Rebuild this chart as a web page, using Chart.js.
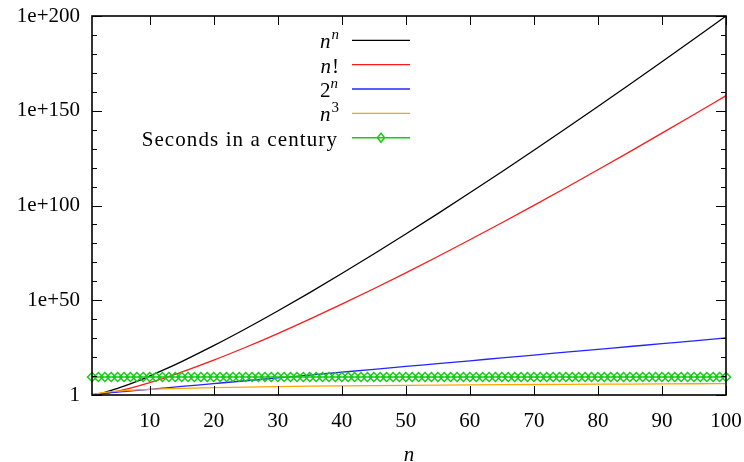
<!DOCTYPE html>
<html><head><meta charset="utf-8">
<script src="https://cdn.jsdelivr.net/npm/chart.js@4/dist/chart.umd.min.js"></script>
<style>html,body{margin:0;padding:0;background:#fff}#c{display:block}</style>
</head><body>
<canvas id="c" width="744" height="462"></canvas>
<script>
// ---- data ----
const sampleN = [1,2,3,4,5,6,8,10,12,15,20,25,30,35,40,45,50,55,60,65,70,75,80,85,90,95,100];
const nPowN = [1,4,27,256,3125,46656,1.68e7,1e10,8.9e12,4.38e17,1.05e26,8.88e34,2.06e44,1.1e54,1.21e64,2.46e74,8.88e84,5.24e95,4.89e106,6.9e117,1.43e129,4.26e140,1.78e152,1.0e164,7.6e175,7.6e187,1e200];
const nFact = [1,2,6,24,120,720,40320,3628800,4.79e8,1.31e12,2.43e18,1.55e25,2.65e32,1.03e40,8.16e47,1.20e56,3.04e64,1.27e73,8.32e81,8.25e90,1.20e100,2.48e109,7.16e118,2.82e128,1.49e138,1.03e148,9.33e157];
const twoPowN = [2,4,8,16,32,64,256,1024,4096,32768,1.05e6,3.36e7,1.07e9,3.44e10,1.1e12,3.52e13,1.13e15,3.6e16,1.15e18,3.69e19,1.18e21,3.78e22,1.21e24,3.87e25,1.24e27,3.96e28,1.27e30];
const nCubed = [1,8,27,64,125,216,512,1000,1728,3375,8000,15625,27000,42875,64000,91125,125000,166375,216000,274625,343000,421875,512000,614125,729000,857375,1e6];
const centuryN = [1,2,3,4,5,6,7,8,9,10,11,12,13,14,15,16,17,18,19,20,21,22,23,24,25,26,27,28,29,30,31,32,33,34,35,36,37,38,39,40,41,42,43,44,45,46,47,48,49,50,51,52,53,54,55,56,57,58,59,60,61,62,63,64,65,66,67,68,69,70,71,72,73,74,75,76,77,78,79,80,81,82,83,84,85,86,87,88,89,90,91,92,93,94,95,96,97,98,99,100];
const centurySeconds = [3.156e9,3.156e9,3.156e9,3.156e9,3.156e9,3.156e9,3.156e9,3.156e9,3.156e9,3.156e9,3.156e9,3.156e9,3.156e9,3.156e9,3.156e9,3.156e9,3.156e9,3.156e9,3.156e9,3.156e9,3.156e9,3.156e9,3.156e9,3.156e9,3.156e9,3.156e9,3.156e9,3.156e9,3.156e9,3.156e9,3.156e9,3.156e9,3.156e9,3.156e9,3.156e9,3.156e9,3.156e9,3.156e9,3.156e9,3.156e9,3.156e9,3.156e9,3.156e9,3.156e9,3.156e9,3.156e9,3.156e9,3.156e9,3.156e9,3.156e9,3.156e9,3.156e9,3.156e9,3.156e9,3.156e9,3.156e9,3.156e9,3.156e9,3.156e9,3.156e9,3.156e9,3.156e9,3.156e9,3.156e9,3.156e9,3.156e9,3.156e9,3.156e9,3.156e9,3.156e9,3.156e9,3.156e9,3.156e9,3.156e9,3.156e9,3.156e9,3.156e9,3.156e9,3.156e9,3.156e9,3.156e9,3.156e9,3.156e9,3.156e9,3.156e9,3.156e9,3.156e9,3.156e9,3.156e9,3.156e9,3.156e9,3.156e9,3.156e9,3.156e9,3.156e9,3.156e9,3.156e9,3.156e9,3.156e9,3.156e9];
const xTicks = [10,20,30,40,50,60,70,80,90,100];
const yMajorTicks = [1,1e50,1e100,1e150,1e200];
const yMinorTicks = [1e10,1e20,1e30,1e40,1e60,1e70,1e80,1e90,1e110,1e120,1e130,1e140,1e160,1e170,1e180,1e190];
const seriesLabels = ['n^n','n!','2^n','n^3','Seconds in a century'];
// legend label pieces: [text, style] style: i=italic, s=superscript
const legendParts = [
  [['n','i'],['n','is']],
  [['n','i'],['!','']],
  [['2',''],['n','is']],
  [['n','i'],['3','s']],
  [['Seconds in a century','']]
];
const colors = ['#000000','#ff1a1a','#2424ff','#ffa500','#14cc14'];

const FONT = '"Liberation Serif", "DejaVu Serif", serif';
const zip = (xs, ys) => xs.map((x, i) => ({x, y: ys[i]}));

const framePlugin = {
  id: 'gpFrame',
  afterDatasetsDraw(chart) {
    const {ctx, chartArea: a} = chart;
    const sx = chart.scales.x, sy = chart.scales.y;
    ctx.save();
    ctx.strokeStyle = '#000';
    ctx.lineWidth = 1;
    ctx.beginPath();
    xTicks.forEach(v => {
      const p = Math.round(sx.getPixelForValue(v)) + 0.5;
      ctx.moveTo(p, a.bottom); ctx.lineTo(p, a.bottom - 9);
      ctx.moveTo(p, a.top); ctx.lineTo(p, a.top + 9);
    });
    yMajorTicks.forEach(v => {
      const p = Math.round(sy.getPixelForValue(v)) + 0.5;
      ctx.moveTo(a.left, p); ctx.lineTo(a.left + 10, p);
      ctx.moveTo(a.right, p); ctx.lineTo(a.right - 10, p);
    });
    yMinorTicks.forEach(v => {
      const p = Math.round(sy.getPixelForValue(v)) + 0.5;
      ctx.moveTo(a.left, p); ctx.lineTo(a.left + 5, p);
      ctx.moveTo(a.right, p); ctx.lineTo(a.right - 5, p);
    });
    ctx.stroke();
    ctx.lineWidth = 1.6;
    ctx.strokeRect(a.left, a.top, a.right - a.left, a.bottom - a.top);
    ctx.restore();
  }
};

const legendPlugin = {
  id: 'gpLegend',
  afterDraw(chart) {
    const ctx = chart.ctx;
    const textRight = 338, x0 = 352, x1 = 410, row0 = 40.3, rowH = 24.35, fs = 21, sfs = 15;
    ctx.save();
    ctx.fillStyle = '#000';
    ctx.textAlign = 'left';
    ctx.textBaseline = 'alphabetic';
    const fontFor = p => (p[1].includes('i') ? 'italic ' : '') + (p[1].includes('s') ? sfs : fs) + 'px ' + FONT;
    const spacing = p => p[0].length > 3 ? '1.1px' : '0px';
    chart.data.datasets.forEach((ds, i) => {
      const y = row0 + i * rowH;
      const parts = legendParts[i];
      const widths = parts.map(p => {
        ctx.font = fontFor(p);
        ctx.letterSpacing = spacing(p);
        return ctx.measureText(p[0]).width;
      });
      let x = textRight - widths.reduce((s, w) => s + w, 0);
      parts.forEach((p, k) => {
        ctx.font = fontFor(p);
        ctx.letterSpacing = spacing(p);
        ctx.fillText(p[0], x, y + 8 - (p[1].includes('s') ? 9 : 0));
        x += widths[k] + (p[1].includes('i') && !p[1].includes('s') ? 1 : 0);
      });
      ctx.letterSpacing = '0px';
      ctx.strokeStyle = ds.borderColor;
      ctx.lineWidth = ds.borderWidth;
      ctx.beginPath();
      ctx.moveTo(x0, y); ctx.lineTo(x1, y);
      ctx.stroke();
      if (ds.pointRadius > 0) {
        const cx = (x0 + x1) / 2, r = ds.pointRadius;
        ctx.lineWidth = ds.pointBorderWidth;
        ctx.beginPath();
        ctx.moveTo(cx, y - r); ctx.lineTo(cx + r * 0.8, y); ctx.lineTo(cx, y + r); ctx.lineTo(cx - r * 0.8, y); ctx.closePath();
        ctx.stroke();
      }
    });
    ctx.restore();
  }
};

const lineDs = (label, data, color, order) => ({
  label, data: zip(sampleN, data), borderColor: color, borderWidth: 1.3,
  pointRadius: 0, cubicInterpolationMode: 'monotone', fill: false, order
});

new Chart(document.getElementById('c'), {
  type: 'line',
  data: {
    datasets: [
      lineDs(seriesLabels[0], nPowN, colors[0], 5),
      lineDs(seriesLabels[1], nFact, colors[1], 4),
      lineDs(seriesLabels[2], twoPowN, colors[2], 3),
      lineDs(seriesLabels[3], nCubed, colors[3], 2),
      {
        label: seriesLabels[4], data: zip(centuryN, centurySeconds), borderColor: colors[4],
        borderWidth: 1.6, pointRadius: 4.5, pointStyle: 'rectRot', pointBorderColor: colors[4],
        pointBackgroundColor: 'rgba(0,0,0,0)', pointBorderWidth: 1.5, fill: false, clip: false, order: 1
      }
    ]
  },
  options: {
    responsive: false, animation: false, devicePixelRatio: 1,
    layout: {padding: {top: 16, right: 18, left: 0, bottom: 0}},
    plugins: {legend: {display: false}, tooltip: {enabled: false}},
    scales: {
      x: {
        type: 'linear', min: 1, max: 100,
        afterBuildTicks: s => { s.ticks = xTicks.map(v => ({value: v})); },
        afterFit: s => { s.height = 67; s.paddingLeft = 0; s.paddingRight = 0; },
        grid: {display: false, drawTicks: false}, border: {display: false},
        ticks: {color: '#000', font: {family: FONT, size: 21}, padding: 14, maxRotation: 0},
        title: {display: true, text: 'n', color: '#000', font: {family: FONT, size: 21, style: 'italic'}, padding: {top: 0, bottom: -6}}
      },
      y: {
        type: 'logarithmic', min: 1, max: 1e200,
        afterBuildTicks: s => { s.ticks = yMajorTicks.map(v => ({value: v})); },
        afterFit: s => { s.width = 92; s.paddingTop = 0; s.paddingBottom = 0; },
        grid: {display: false, drawTicks: false}, border: {display: false},
        ticks: {
          color: '#000', font: {family: FONT, size: 21}, padding: 12,
          callback: v => v === 1 ? '1' : '1e+' + Math.round(Math.log10(v))
        }
      }
    }
  },
  plugins: [framePlugin, legendPlugin]
});
</script>
</body></html>
